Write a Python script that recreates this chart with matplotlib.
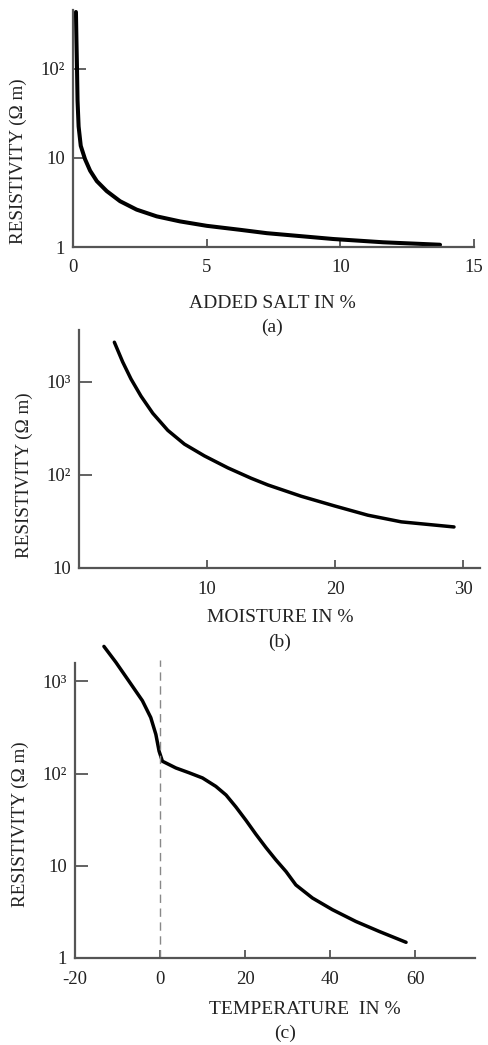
"""
Soil resistivity vs added salt, moisture and temperature (three stacked panels).
"""
import matplotlib
matplotlib.use('Agg')
import matplotlib.pyplot as plt

# (a) added salt
salt_pct = [0.11, 0.13, 0.15, 0.17, 0.21, 0.29, 0.45, 0.64, 0.89, 1.26, 1.76, 2.38,
            3.13, 4.0, 5.0, 6.25, 7.25, 9.73, 11.6, 13.73]
salt_res = [437, 200, 100, 44, 22.6, 13.7, 9.7, 7.2, 5.5, 4.25, 3.27, 2.63,
            2.21, 1.94, 1.73, 1.56, 1.43, 1.23, 1.13, 1.06]

# (b) moisture
moist_pct = [2.76, 3.41, 4.06, 4.84, 5.76, 6.93, 8.23, 9.79, 11.62, 13.44, 14.74,
             17.34, 19.95, 22.55, 25.16, 29.27]
moist_res = [2660, 1633, 1071, 701, 459, 301, 214, 160, 119, 92, 78,
             59, 46.4, 36.9, 31.3, 27.6]

# (c) temperature
temp_c = [-13.2, -10.4, -7.3, -4.16, -2.2, -1.0, -0.24, 0.54, 3.7, 6.8, 9.96, 13.1,
          15.5, 17.8, 20.2, 22.5, 24.9, 27.2, 29.6, 31.9, 35.8, 40.5, 46.0, 51.5, 57.8]
temp_res = [2390, 1610, 1000, 616, 405, 266, 175, 136, 115, 102, 89.6, 72.6,
            58.5, 43.5, 31, 22, 15.7, 11.6, 8.65, 6.2, 4.47, 3.34, 2.49, 1.94, 1.48]

W, H = 488, 1045
plt.rcParams['font.family'] = ['Liberation Serif', 'DejaVu Serif']
plt.rcParams['axes.unicode_minus'] = False

fig = plt.figure(figsize=(W / 100, H / 100), dpi=100)


def make_axes(left, right, top, bottom):
    # pixel box -> figure fraction
    return fig.add_axes([left / W, 1 - bottom / H, (right - left) / W, (bottom - top) / H])


def style(ax, label_y):
    for s in ('top', 'right'):
        ax.spines[s].set_visible(False)
    for s in ('left', 'bottom'):
        ax.spines[s].set_color('#555555')
        ax.spines[s].set_linewidth(1.6)
    ax.tick_params(axis='y', which='major', direction='in', length=9, width=1.3,
                   color='#555555', labelsize=13.5, pad=6, labelcolor='#222222')
    ax.tick_params(axis='x', which='major', direction='in', length=6, width=1.3,
                   color='#555555', labelsize=13.5, pad=9, labelcolor='#222222')
    ax.tick_params(which='minor', length=0)
    ax.set_ylabel('RESISTIVITY (Ω m)', fontsize=13.8, color='#222222')
    ax.yaxis.set_label_coords(-0.115, label_y)


# ---- (a)
ax1 = make_axes(73, 474, 10, 247)
ax1.plot(salt_pct, salt_res, color='black', lw=2.9, clip_on=False, solid_capstyle='round')
ax1.set_yscale('log')
ax1.set_xlim(0, 15)
ax1.set_ylim(1, 460)
ax1.set_xticks([0, 5, 10, 15])
ax1.set_yticks([1, 10, 100])
ax1.set_yticklabels(['1', '10', '10²'])
style(ax1, 0.36)

# ---- (b)
ax2 = make_axes(79, 480, 330, 568)
ax2.plot(moist_pct, moist_res, color='black', lw=2.5, clip_on=False, solid_capstyle='round')
ax2.set_yscale('log')
ax2.set_xlim(0, 31.3)
ax2.set_ylim(10, 3600)
ax2.set_xticks([10, 20, 30])
ax2.set_yticks([10, 100, 1000])
ax2.set_yticklabels(['10', '10²', '10³'])
style(ax2, 0.39)

# ---- (c)
ax3 = make_axes(75, 475, 663, 958)
ax3.plot(temp_c, temp_res, color='black', lw=2.5, clip_on=False, solid_capstyle='round')
ax3.axvline(0, ymax=1.01, color='#888888', lw=1.0, ls=(0, (6, 4)), clip_on=False)
ax3.set_yscale('log')
ax3.set_xlim(-20, 74)
ax3.set_ylim(1, 1580)
ax3.set_xticks([-20, 0, 20, 40, 60])
ax3.set_yticks([1, 10, 100, 1000])
ax3.set_yticklabels(['1', '10', '10²', '10³'])
ax3.spines['bottom'].set_color('#333333')
ax3.spines['bottom'].set_linewidth(2.0)
style(ax3, 0.455)

# x labels and panel captions
captions = [(272, 303, 'ADDED SALT IN %'), (272, 327, '(a)'),
            (280, 618, 'MOISTURE IN %'), (280, 642, '(b)'),
            (305, 1009, 'TEMPERATURE  IN %'), (285, 1033, '(c)')]
for x, y, t in captions:
    fig.text(x / W, 1 - y / H, t, ha='center', va='center', fontsize=14, color='#222222')

plt.savefig('out.png', dpi=100)
print('saved out.png')
